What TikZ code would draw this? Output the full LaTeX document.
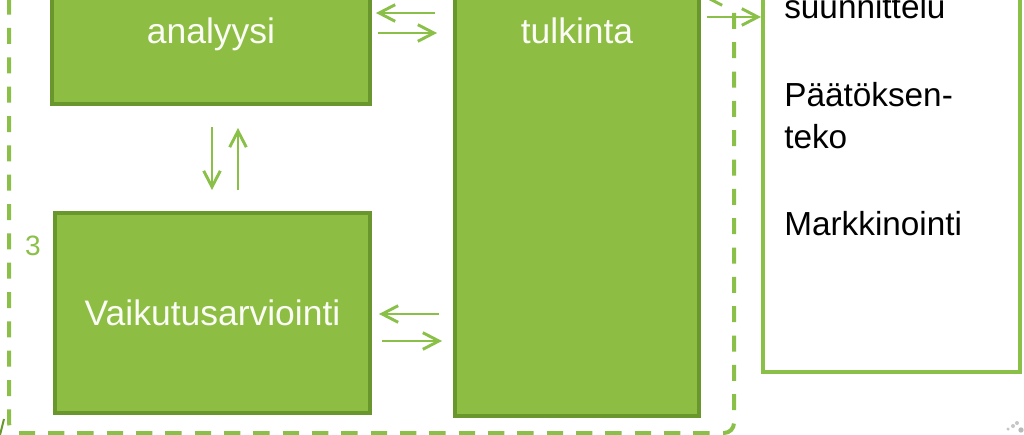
\documentclass[tikz,border=0pt]{standalone}
\usepackage{fontspec}
\setmainfont{Liberation Sans}
\usetikzlibrary{arrows.meta}
\definecolor{gfill}{RGB}{141,190,67}
\definecolor{gedge}{RGB}{106,150,46}
\definecolor{garrow}{RGB}{139,192,72}
\definecolor{gtext}{RGB}{250,252,245}
\tikzset{
  gbox/.style={rectangle, draw=gedge, fill=gfill, line width=2.4pt, inner sep=0pt,
    text=gtext, font=\fontsize{26.6}{32}\selectfont},
  wbox/.style={rectangle, draw=garrow, fill=white, line width=2.4pt, inner sep=0pt},
  rtext/.style={anchor=base west, inner sep=0pt, text=black, font=\fontsize{25}{30}\selectfont},
  garr/.style={draw=garrow, line width=2.2pt, -{Straight Barb[length=12pt,width=12.5pt]}},
  frame/.style={draw=garrow, line width=3pt, dash pattern=on 12pt off 10pt},
}
\begin{document}
\begin{tikzpicture}[x=0.75pt,y=-0.75pt]
\useasboundingbox (0,0) rectangle (1024,435);
\clip (0,0) rectangle (1024,435);
\fill[white] (0,0) rectangle (1024,435);

% dashed frame
\draw[frame, rounded corners=7.5pt] (9,-60) -- (9,433) -- (734,433) -- (734,-60);
\draw[frame, line width=4.5pt, dash phase=4pt] (24,433.5) -- (722,433.5);

% boxes
\node[gbox, minimum width=238.5pt, minimum height=105pt] (ana) at (211,34) {analyysi};
\node[gbox, minimum width=236.25pt, minimum height=150pt] (vai) at (212.5,313) {Vaikutusarviointi};
\node[gbox, minimum width=183pt, minimum height=578.25pt] (tul) at (577,30.5) {tulkinta};
\node[wbox, minimum width=192.75pt, minimum height=316.5pt] (out) at (891.5,161) {};

% texts in the white box
\node[rtext] (t1) at (784,19) {suunnittelu};
\node[rtext] (t2) at (784,107) {Päätöksen-};
\node[rtext] (t3) at (784,148) {teko};
\node[rtext] (t4) at (784,235) {Markkinointi};

% number
\node[anchor=base, inner sep=0pt, text=garrow, font=\fontsize{21}{25}\selectfont] (n3) at (33,255) {3};

% arrow end points
\coordinate (a1s) at (435,13);  \coordinate (a1e) at (376,13);
\coordinate (a2s) at (378,33);  \coordinate (a2e) at (437,33);
\coordinate (v1s) at (212,127); \coordinate (v1e) at (212,190);
\coordinate (v2s) at (238,190); \coordinate (v2e) at (238,128);
\coordinate (b1s) at (439,314); \coordinate (b1e) at (379,314);
\coordinate (b2s) at (382,341); \coordinate (b2e) at (442,341);
\coordinate (r1s) at (707,17);  \coordinate (r1e) at (761,17);
\coordinate (r0s) at (762,-3);  \coordinate (r0e) at (703,-3);

\draw[garr] (a1s) -- (a1e);
\draw[garr] (a2s) -- (a2e);
\draw[garr] (v1s) -- (v1e);
\draw[garr] (v2s) -- (v2e);
\draw[garr] (b1s) -- (b1e);
\draw[garr] (b2s) -- (b2e);
\draw[garr] (r1s) -- (r1e);
\draw[garr] (r0s) -- (r0e);

% small fragments at the edges
\draw[gedge, line width=1.5pt] (0,435) -- (4,419);
\fill[gray!45] (1008,429) circle (1.3pt);
\fill[gray!45] (1013,426) circle (1.5pt);
\fill[gray!45] (1017,423) circle (1.5pt);
\fill[gray!55] (1021,430) circle (2pt);
\end{tikzpicture}
\end{document}
